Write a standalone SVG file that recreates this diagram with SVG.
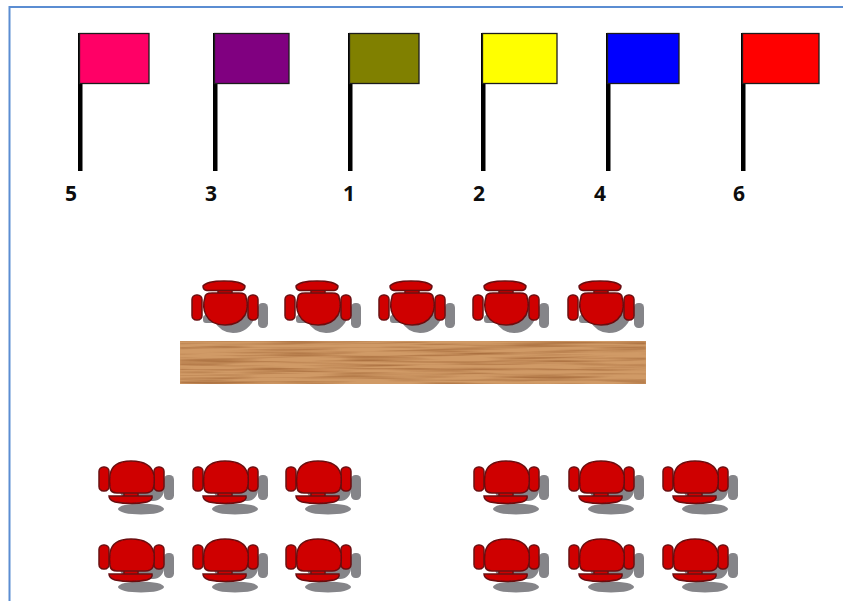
<svg xmlns="http://www.w3.org/2000/svg" width="843" height="601" viewBox="0 0 843 601">
<style>
.pole{fill:#000}
.flag{stroke:#1c1c1c;stroke-width:1.3}
.num{font:bold 21px "Open Sans","Liberation Sans",sans-serif;fill:#0d0d0d;text-anchor:middle}
.r{fill:#cf0000;stroke:#6a0c10;stroke-width:1.5}
.s{fill:#858589}
</style>
<defs>
<filter id="wood" x="0" y="0" width="100%" height="100%" color-interpolation-filters="sRGB">
<feTurbulence type="fractalNoise" baseFrequency="0.012 0.38" numOctaves="2" seed="7"/>
<feColorMatrix type="matrix" values="0 0 0 0 0.58  0 0 0 0 0.34  0 0 0 0 0.16  1.5 0 0 0 -0.62"/>
<feGaussianBlur stdDeviation="1 0.5"/>
<feComposite in2="SourceGraphic" operator="in" result="g"/>
<feMerge><feMergeNode in="SourceGraphic"/><feMergeNode in="g"/></feMerge>
</filter>
<filter id="soft" x="-10%" y="-10%" width="120%" height="120%"><feGaussianBlur stdDeviation="0.7"/></filter>
<g id="chair-down" filter="url(#soft)">
<g class="s">
<rect x="-11" y="14" width="44" height="26" rx="11"/>
<rect x="33" y="14" width="10" height="25" rx="4.5"/>
<ellipse cx="10" cy="48" rx="23" ry="5.500"/>
</g>
<rect class="r" x="-32" y="6" width="10" height="24" rx="4.500"/>
<rect class="r" x="23" y="6" width="10" height="24" rx="4.500"/>
<rect class="r" x="-7" y="30" width="14" height="6"/>
<path class="r" d="M-22 35H21Q22 39 16 41Q0 44 -16 41Q-22 39 -22 35Z"/>
<path class="r" d="M-21 14Q-19 0 0 0Q20 0 23 14Q24 22 22 28Q20 32 14 32H-14Q-20 32 -21 27Q-22 20 -21 14Z"/>
</g>
<g id="chair-up" filter="url(#soft)">
<g class="s">
<path d="M-9 21H31V34Q24 52 8 52Q-4 52 -11 40Z"/>
<rect x="33" y="22" width="10" height="25" rx="4.500"/>
<rect x="-22" y="34" width="24" height="8" rx="3"/>
</g>
<rect class="r" x="-33" y="14" width="10" height="25" rx="4.500"/>
<rect class="r" x="23" y="14" width="10" height="25" rx="4.500"/>
<rect class="r" x="-7" y="8" width="14" height="6"/>
<path class="r" d="M-22 5Q-18 0 -1 0Q16 0 20 5Q20 9 16 9.500H-18Q-22 9 -22 5Z"/>
<path class="r" d="M-20 16Q-20 12 -13 12H14Q21 12 21 16Q24 26 20 34Q14 44 0 44Q-14 44 -19 34Q-23 26 -20 16Z"/>
</g>
</defs>
<rect width="843" height="601" fill="#fff"/>
<path d="M9.500 601V7H843" fill="none" stroke="#5b8dd2" stroke-width="2"/>

<g id="flag-5"><rect class="pole" x="78" y="33" width="4.500" height="138"/><rect class="flag" x="79.500" y="33.500" width="69.500" height="50" fill="#ff0066"/><text class="num" x="71" y="201">5</text></g>
<g id="flag-3"><rect class="pole" x="213" y="33" width="4.500" height="138"/><rect class="flag" x="214.500" y="33.500" width="74.500" height="50" fill="#800080"/><text class="num" x="211" y="201">3</text></g>
<g id="flag-1"><rect class="pole" x="348" y="33" width="4.500" height="138"/><rect class="flag" x="349.500" y="33.500" width="69.500" height="50" fill="#808000"/><text class="num" x="349" y="201">1</text></g>
<g id="flag-2"><rect class="pole" x="481" y="33" width="4.500" height="138"/><rect class="flag" x="482.500" y="33.500" width="74.500" height="50" fill="#ffff00"/><text class="num" x="479" y="201">2</text></g>
<g id="flag-4"><rect class="pole" x="606" y="33" width="4.500" height="138"/><rect class="flag" x="607.500" y="33.500" width="71.500" height="50" fill="#0000ff"/><text class="num" x="600" y="201">4</text></g>
<g id="flag-6"><rect class="pole" x="741" y="33" width="4.500" height="138"/><rect class="flag" x="742.500" y="33.500" width="76.500" height="50" fill="#ff0000"/><text class="num" x="739" y="201">6</text></g>

<g id="table"><rect x="180" y="341" width="466" height="43" fill="#d09a66" filter="url(#wood)"/></g>

<g id="chairs-front">
<use href="#chair-up" x="225" y="281"/>
<use href="#chair-up" x="318" y="281"/>
<use href="#chair-up" x="412" y="281"/>
<use href="#chair-up" x="506" y="281"/>
<use href="#chair-up" x="601" y="281"/>
</g>
<g id="chairs-left">
<use href="#chair-down" x="131" y="461"/>
<use href="#chair-down" x="225" y="461"/>
<use href="#chair-down" x="318" y="461"/>
<use href="#chair-down" x="131" y="539"/>
<use href="#chair-down" x="225" y="539"/>
<use href="#chair-down" x="318" y="539"/>
</g>
<g id="chairs-right">
<use href="#chair-down" x="506" y="461"/>
<use href="#chair-down" x="601" y="461"/>
<use href="#chair-down" x="695" y="461"/>
<use href="#chair-down" x="506" y="539"/>
<use href="#chair-down" x="601" y="539"/>
<use href="#chair-down" x="695" y="539"/>
</g>
</svg>
